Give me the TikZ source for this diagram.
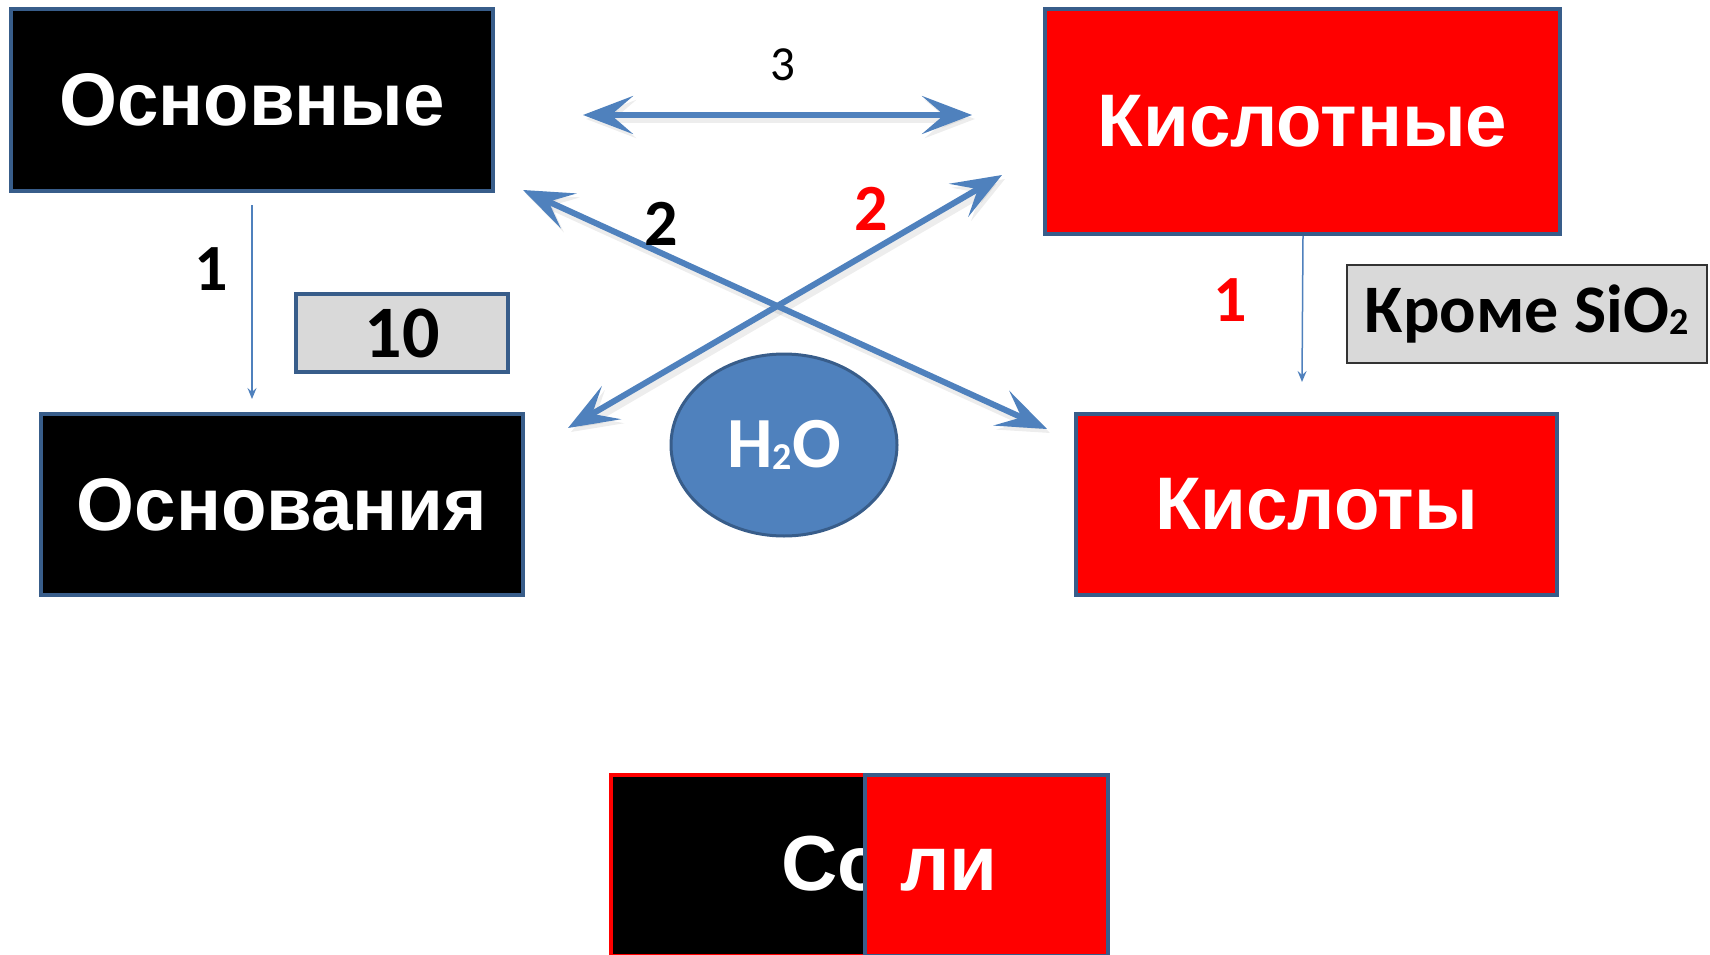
\documentclass[tikz,border=0pt]{standalone}
\usepackage{fontspec}
\setmainfont{Liberation Sans}
\newfontfamily\carl{Carlito}
\usetikzlibrary{arrows.meta,shapes.geometric}
\definecolor{bord}{HTML}{385D8A}
\definecolor{accent}{HTML}{4F81BD}
\definecolor{lgray}{HTML}{D9D9D9}
\tikzset{
  x=1pt,y=-1pt,
  bigbox/.style={rectangle,draw=bord,line width=4pt,inner sep=0pt,text=white,
    font=\fontsize{74.5}{78}\selectfont\bfseries},
  blackbox/.style={bigbox,fill=black},
  redbox/.style={bigbox,fill=red},
  graybox/.style={rectangle,fill=lgray,inner sep=0pt},
  bignum/.style={inner sep=0pt,font=\carl\fontsize{66}{70}\selectfont\bfseries},
  bigarrow/.style={draw=accent,line width=6pt,
    {Stealth[length=50pt,width=38pt,inset=22pt]}-{Stealth[length=50pt,width=38pt,inset=22pt]}},
  shadowarrow/.style={draw=black,opacity=0.07,line width=9pt,
    {Stealth[length=50pt,width=38pt,inset=22pt]}-{Stealth[length=50pt,width=38pt,inset=22pt]}},
  thinarrow/.style={draw=accent,line width=1.5pt,-{Stealth[length=11pt,width=9pt,inset=4pt]}},
}
\begin{document}
\begin{tikzpicture}
\useasboundingbox[fill=white] (0,0) rectangle (1710,955);

% main boxes
\node[blackbox,minimum width=482pt,minimum height=182pt] (osn) at (252,100) {Основные};
\node[redbox,minimum width=515pt,minimum height=225pt] (kisl) at (1302.5,121.5) {Кислотные};
\node[blackbox,minimum width=482pt,minimum height=181pt] (osnov) at (282,504.5) {Основания};
\node[redbox,minimum width=481pt,minimum height=181pt] (kislo) at (1316.5,504.5) {Кислоты};

% small gray boxes
\node[graybox,draw=bord,line width=3.5pt,minimum width=212pt,minimum height=78pt,
  font=\carl\fontsize{74}{78}\selectfont\bfseries] (ten) at (402,333) {10};
\node[graybox,draw=black!80,line width=2pt,minimum width=360pt,minimum height=98pt,
  font=\carl\fontsize{68}{72}\selectfont\bfseries] (krome) at (1526.5,313.5)
  {Кроме SiO\raisebox{-2pt}{\fontsize{38}{40}\selectfont 2}};

% water ellipse
\node[ellipse,fill=accent,draw=bord,line width=3pt,minimum width=226pt,minimum height=182pt,
  inner sep=0pt,text=white,font=\carl\fontsize{72}{76}\selectfont\bfseries] (water) at (784,445)
  {H\raisebox{-2pt}{\fontsize{38}{40}\selectfont 2}O};

% salts
\node[rectangle,fill=black,draw=red,line width=4pt,minimum width=390pt,minimum height=181pt,
  inner sep=0pt] (solA) at (806,865) {};
\node[anchor=base west,inner sep=0pt,text=white,font=\fontsize{78}{80}\selectfont\bfseries]
  (soltA) at (781,890) {Со};
\node[rectangle,fill=red,draw=bord,line width=4pt,minimum width=243pt,minimum height=181pt,
  inner sep=0pt] (solB) at (986.5,865) {};
\node[anchor=base west,inner sep=0pt,text=white,font=\fontsize{78}{80}\selectfont\bfseries]
  (soltB) at (900,890) {ли};

% coordinates for big arrows
\coordinate (h1) at (583,115);
\coordinate (h2) at (972,115);
\coordinate (a1) at (523,190);
\coordinate (a2) at (1047,429);
\coordinate (b1) at (1002,175);
\coordinate (b2) at (568,428);

% shadows
\draw[shadowarrow,transform canvas={shift={(3pt,-4pt)}}] (h1) -- (h2);
\draw[shadowarrow,transform canvas={shift={(3pt,-4pt)}}] (a1) -- (a2);
\draw[shadowarrow,transform canvas={shift={(3pt,-4pt)}}] (b1) -- (b2);

% big arrows
\draw[bigarrow] (h1) -- (h2);
\draw[bigarrow] (a1) -- (a2);
\draw[bigarrow] (b1) -- (b2);

% thin arrows
\coordinate (t1s) at (252,205);
\coordinate (t1e) at (252,399);
\coordinate (t2s) at (1303,236);
\coordinate (t2e) at (1302,382);
\draw[thinarrow] (t1s) -- (t1e);
\draw[thinarrow] (t2s) -- (t2e);

% labels
\node[inner sep=0pt,font=\carl\fontsize{49}{52}\selectfont] (l3) at (783,65) {3};
\node[bignum] (l2a) at (661,224) {2};
\node[bignum,text=red] (l2b) at (871,209) {2};
\node[bignum] (l1a) at (211,269) {1};
\node[bignum,text=red] (l1b) at (1230,300) {1};
\end{tikzpicture}
\end{document}
